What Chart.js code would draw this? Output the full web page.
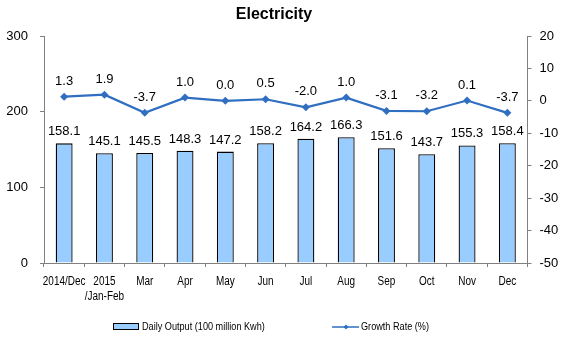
<!DOCTYPE html>
<html>
<head>
<meta charset="utf-8">
<script src="https://cdn.jsdelivr.net/npm/chart.js@4/dist/chart.umd.min.js"></script>
<style>
html,body{margin:0;padding:0;background:#fff;}
#wrap{position:relative;width:564px;height:337px;}
</style>
</head>
<body>
<div id="wrap"><canvas id="c" width="564" height="337"></canvas></div>
<script>
const categories = [['2014/Dec'], ['2015', '/Jan-Feb'], ['Mar'], ['Apr'], ['May'], ['Jun'], ['Jul'], ['Aug'], ['Sep'], ['Oct'], ['Nov'], ['Dec']];
const dailyOutput = [158.1, 145.1, 145.5, 148.3, 147.2, 158.2, 164.2, 166.3, 151.6, 143.7, 155.3, 158.4];
const growthRate = [1.3, 1.9, -3.7, 1.0, 0.0, 0.5, -2.0, 1.0, -3.1, -3.2, 0.1, -3.7];
const leftTicks = [0, 100, 200, 300];
const rightTicks = [-50, -40, -30, -20, -10, 0, 10, 20];
const titleText = 'Electricity';
const barLegend = 'Daily Output (100 million Kwh)';
const lineLegend = 'Growth Rate (%)';

const AXIS = '#808080';
const ARIAL = '"Liberation Sans", Arial, sans-serif';
const LINE_COLOR = '#2F6EC0';
const BAR_COLOR = '#99CCFF';
const NARROW_SCALE = 0.83;

function narrowText(ctx, text, x, y, align) {
  ctx.save();
  ctx.translate(x, y);
  ctx.scale(NARROW_SCALE, 1);
  ctx.textAlign = align;
  ctx.fillText(text, 0, 0);
  ctx.restore();
}

const labelPlugin = {
  id: 'extras',
  afterDatasetsDraw(chart) {
    const ctx = chart.ctx;
    ctx.save();
    ctx.fillStyle = '#000';
    ctx.font = '13px ' + ARIAL;
    ctx.textAlign = 'center';
    ctx.textBaseline = 'alphabetic';
    const barMeta = chart.getDatasetMeta(0);
    barMeta.data.forEach((el, i) => {
      ctx.fillText(dailyOutput[i].toFixed(1), el.x, el.y - 8);
    });
    const lineMeta = chart.getDatasetMeta(1);
    lineMeta.data.forEach((el, i) => {
      ctx.fillText(growthRate[i].toFixed(1), el.x, el.y - 12);
    });
    // title
    ctx.font = 'bold 16px ' + ARIAL;
    ctx.fillText(titleText, 274, 19);
    // x category labels (narrow)
    const xs = chart.scales.x;
    ctx.font = '12px ' + ARIAL;
    ctx.textBaseline = 'middle';
    categories.forEach((lines, i) => {
      const px = xs.getPixelForTick(i);
      lines.forEach((t, j) => narrowText(ctx, t, px, 282 + j * 15, 'center'));
    });
    // legend
    ctx.font = '11px ' + ARIAL;
    ctx.textBaseline = 'middle';
    ctx.fillStyle = BAR_COLOR;
    ctx.fillRect(113.5, 323.5, 25, 6);
    ctx.strokeStyle = '#000';
    ctx.lineWidth = 1;
    ctx.strokeRect(113.5, 323.5, 25, 6);
    ctx.fillStyle = '#000';
    narrowText(ctx, barLegend, 142, 327, 'left');
    ctx.strokeStyle = LINE_COLOR;
    ctx.lineWidth = 1.5;
    ctx.beginPath();
    ctx.moveTo(332, 327);
    ctx.lineTo(359, 327);
    ctx.stroke();
    ctx.fillStyle = LINE_COLOR;
    ctx.beginPath();
    ctx.moveTo(346, 324.5);
    ctx.lineTo(348.5, 327);
    ctx.lineTo(346, 329.5);
    ctx.lineTo(343.5, 327);
    ctx.closePath();
    ctx.fill();
    ctx.fillStyle = '#000';
    narrowText(ctx, lineLegend, 361, 327, 'left');
    ctx.restore();
  }
};

new Chart(document.getElementById('c'), {
  type: 'bar',
  data: {
    labels: categories,
    datasets: [
      {
        type: 'bar',
        label: barLegend,
        data: dailyOutput,
        yAxisID: 'y',
        backgroundColor: BAR_COLOR,
        borderColor: '#000',
        borderWidth: 1.3,
        borderSkipped: 'bottom',
        barPercentage: 0.42,
        categoryPercentage: 1.0,
        order: 2
      },
      {
        type: 'line',
        label: lineLegend,
        data: growthRate,
        yAxisID: 'y1',
        borderColor: LINE_COLOR,
        backgroundColor: LINE_COLOR,
        borderWidth: 2.2,
        pointStyle: 'rectRot',
        pointRadius: 4,
        pointBorderWidth: 0,
        tension: 0,
        order: 1
      }
    ]
  },
  options: {
    responsive: false,
    animation: false,
    devicePixelRatio: 1,
    layout: { padding: { top: 36, left: 0, right: 0, bottom: 0 } },
    plugins: {
      legend: { display: false },
      title: { display: false },
      tooltip: { enabled: false }
    },
    scales: {
      x: {
        offset: true,
        grid: { offset: true, drawOnChartArea: false, tickLength: 4, color: AXIS },
        border: { color: AXIS, width: 1 },
        ticks: { display: false, autoSkip: false, maxRotation: 0 },
        afterFit(s) { s.height = 74; }
      },
      y: {
        position: 'left',
        min: 0, max: 300,
        afterBuildTicks(s) { s.ticks = leftTicks.map(v => ({ value: v })); },
        grid: { drawOnChartArea: false, tickLength: 4, color: AXIS },
        border: { color: AXIS, width: 1 },
        ticks: { color: '#000', font: { family: ARIAL, size: 13 }, padding: 12 },
        afterFit(s) { s.width = 44; }
      },
      y1: {
        position: 'right',
        min: -50, max: 20,
        afterBuildTicks(s) { s.ticks = rightTicks.map(v => ({ value: v })); },
        grid: { drawOnChartArea: false, tickLength: 4, color: AXIS },
        border: { color: AXIS, width: 1 },
        ticks: { color: '#000', font: { family: ARIAL, size: 13 }, padding: 8 },
        afterFit(s) { s.width = 36.5; }
      }
    }
  },
  plugins: [labelPlugin]
});
</script>
</body>
</html>
